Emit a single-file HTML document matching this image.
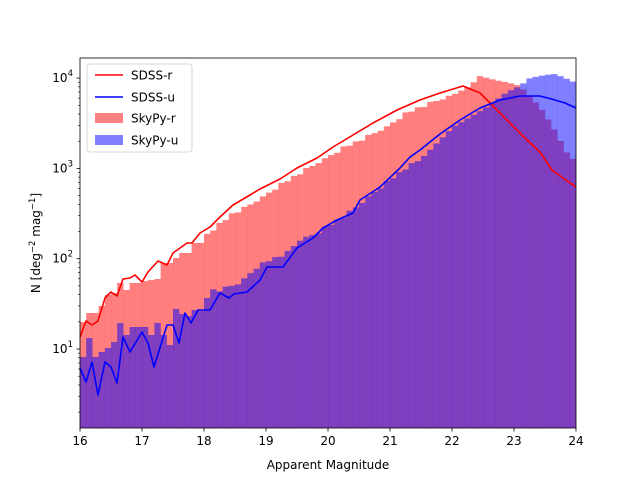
<!DOCTYPE html>
<html><head><meta charset="utf-8"><style>
html,body{margin:0;padding:0;background:#fff;width:640px;height:480px;overflow:hidden}
svg{display:block;font-family:"DejaVu Sans","Liberation Sans",sans-serif}
</style></head><body>
<svg id="s" width="640" height="480" xmlns="http://www.w3.org/2000/svg"></svg>
<script>
var s=document.getElementById('s');
function interp(a,x){if(x<=a[0][0])return a[0][1];for(var i=1;i<a.length;i++){if(x<=a[i][0]){var t=(x-a[i-1][0])/(a[i][0]-a[i-1][0]);return a[i-1][1]+t*(a[i][1]-a[i-1][1]);}}return a[a.length-1][1];}
var redLeft=[322,313,313,306,295,293,283,290,283,283,281,280,279,263,263,258,253,253,243,243];
var redA=[[207,234],[225,220],[233,213],[243,209],[263,197],[277,187],[300,173],[323,160],[343,148],[367,137],[387,127],[403,115],[420,107],[453,95],[470,86],[480,76],[495,80],[510,83],[520,86],[540,107],[553,127],[567,153],[576,162]];
var blueLeft=[357,338,357,352,348,342,323,335,327,327,327,335,323,335,345,309,314,316,310,311,298];
var blueA=[[220,290],[240,283],[257,267],[270,260],[287,253],[300,240],[317,233],[333,223],[353,210],[373,193],[390,180],[407,167],[420,160],[453,127],[487,107],[507,92],[520,86],[530,78],[545,75],[555,74],[565,78],[576,83]];
var noise=[0,2,-2,1,-1,2,-2,0,1,-1];
var out='';
var r='',b='';
for(var i=0;i<80;i++){var x0=80+6.2*i,c=x0+3.1;
 var ry=i<redLeft.length?redLeft[i]:interp(redA,c)+(c<460?noise[i%10]*0.7:0);
 var by=i<blueLeft.length?blueLeft[i]:interp(blueA,c)+(c<420?noise[(i+3)%10]*0.7:0);
 r+='<rect x="'+x0.toFixed(2)+'" y="'+ry.toFixed(1)+'" width="6.3" height="'+(428-ry).toFixed(1)+'"/>';
 b+='<rect x="'+x0.toFixed(2)+'" y="'+by.toFixed(1)+'" width="6.3" height="'+(428-by).toFixed(1)+'"/>';}
out+='<g fill="#ff0000" fill-opacity="0.5">'+r+'</g><g fill="#0000ff" fill-opacity="0.5">'+b+'</g>';
var redL=[[80,337],[86,321],[92,325],[98,321],[105,298],[111,292],[117,296],[123,279],[130,278],[135,275],[142,282],[148,272],[158,261],[167,265],[173,253],[187,243],[192,243],[200,233],[210,227],[220,217],[233,205],[250,195],[260,189],[280,179],[297,168],[317,158],[333,147],[353,135],[373,123],[397,110],[420,100],[440,93],[463,86],[480,93],[500,113],[527,140],[540,152],[552,170],[563,178],[576,187]];
var blueL=[[80,368],[86,382],[92,362],[98,395],[105,362],[111,367],[117,383],[123,337],[130,352],[142,332],[148,343],[154,367],[167,325],[173,325],[179,343],[185,313],[191,323],[198,310],[210,310],[220,293],[229,298],[234,294],[247,292],[260,280],[267,267],[283,267],[297,248],[313,238],[323,228],[337,220],[353,213],[360,200],[380,187],[400,168],[410,157],[420,150],[440,134],[460,120],[480,108],[500,100],[520,96],[540,96],[555,100],[565,103],[576,108]];
function pl(a,col){return '<polyline fill="none" stroke="'+col+'" stroke-width="1.6" stroke-linejoin="round" points="'+a.map(function(p){return p[0]+','+p[1]}).join(' ')+'"/>';}
out+=pl(redL,'#ff0000')+pl(blueL,'#0000ff');
out+='<rect x="80" y="58" width="496" height="370" fill="none" stroke="#000" stroke-width="0.8"/>';
for(var k=0;k<=8;k++){var x=80+62*k;out+='<line x1="'+x+'" y1="428" x2="'+x+'" y2="431.5" stroke="#000" stroke-width="0.8"/><text x="'+x+'" y="445" font-size="12" text-anchor="middle">'+(16+k)+'</text>';}
function yv(n){return 349-90.3*(Math.log10(n)-1);}
for(var d=0;d<=4;d++){for(var m=1;m<=9;m++){var y=yv(m*Math.pow(10,d));if(y<58||y>428)continue;
 if(m==1){out+='<line x1="76.5" y1="'+y+'" x2="80" y2="'+y+'" stroke="#000" stroke-width="0.8"/><text x="73" y="'+(y+4)+'" font-size="12" text-anchor="end">10<tspan dy="-6" font-size="8.5">'+d+'</tspan></text>';}
 else out+='<line x1="78" y1="'+y+'" x2="80" y2="'+y+'" stroke="#000" stroke-width="0.6"/>';}}
out+='<text x="328" y="469" font-size="12" text-anchor="middle">Apparent Magnitude</text>';
out+='<text transform="translate(40,243) rotate(-90)" font-size="12" text-anchor="middle">N [deg<tspan dy="-5" font-size="8.5">−2</tspan><tspan dy="5"> mag</tspan><tspan dy="-5" font-size="8.5">−1</tspan><tspan dy="5">]</tspan></text>';
out+='<rect x="87" y="64" width="105" height="88" rx="3" fill="#fff" fill-opacity="0.8" stroke="#ccc" stroke-width="0.8"/>';
out+='<line x1="95" y1="75" x2="123" y2="75" stroke="#f00" stroke-width="1.6"/><text x="131" y="79.5" font-size="12">SDSS-r</text>';
out+='<line x1="95" y1="97" x2="123" y2="97" stroke="#00f" stroke-width="1.6"/><text x="131" y="101.5" font-size="12">SDSS-u</text>';
out+='<rect x="95" y="113" width="28" height="10" fill="#ff8080"/><text x="131" y="122.5" font-size="12">SkyPy-r</text>';
out+='<rect x="95" y="135" width="28" height="10" fill="#8080ff"/><text x="131" y="144.5" font-size="12">SkyPy-u</text>';
s.innerHTML=out;
</script>
</body></html>
